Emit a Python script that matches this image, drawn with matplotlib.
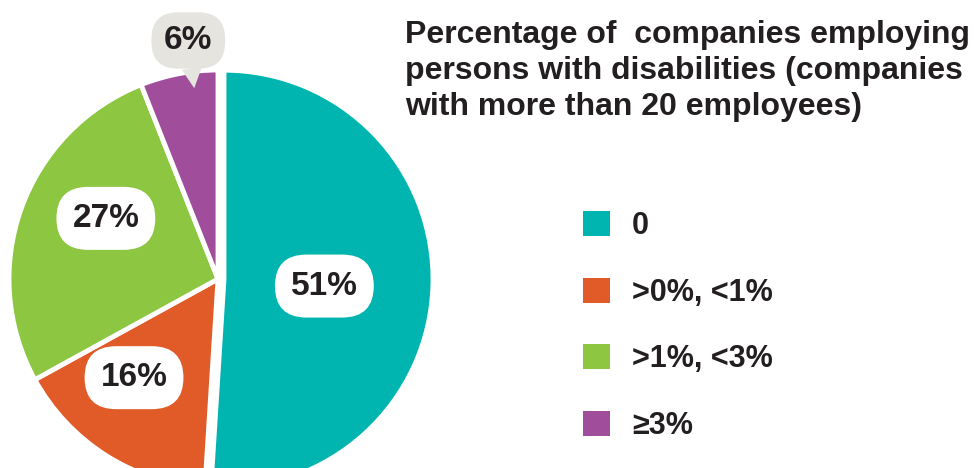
import matplotlib
matplotlib.use('Agg')
import matplotlib.pyplot as plt
from matplotlib.patches import Patch
import numpy as np

categories = ['0', '>0%, <1%', '>1%, <3%', '≥3%']
values = [51, 16, 27, 6]
labels = ['51%', '16%', '27%', '6%']
colors = ['#00B5B0', '#E05B28', '#8DC641', '#A04E9C']
title = ('Percentage of  companies employing\n'
         'persons with disabilities (companies\n'
         'with more than 20 employees)')

plt.rcParams['font.family'] = ['Liberation Sans', 'DejaVu Sans']
TXT = '#231F20'
GREY = '#E5E4DF'

W, H = 974, 468
fig = plt.figure(figsize=(W / 100, H / 100), dpi=100)
ax = fig.add_axes([0, 0, 1, 1])

cx, cy, R = 218, H - 279, 209
wedges, _ = ax.pie(values, colors=colors, startangle=90, counterclock=False,
                   center=(cx, cy), radius=R, explode=[6, 0, 0, 0],
                   wedgeprops=dict(edgecolor='white', linewidth=3.5))
ax.set_xlim(0, W)
ax.set_ylim(0, H)
ax.set_aspect('equal')
ax.axis('off')

label_r = [0.51, 0.62, 0.61, 1.15]
label_da = [-2, -8, -8.6, -3.7]
for w, lab, rr, da in zip(wedges, labels, label_r, label_da):
    mid = np.deg2rad((w.theta1 + w.theta2) / 2 + da)
    x0, y0 = cx, cy
    lx, ly = x0 + rr * R * np.cos(mid), y0 + rr * R * np.sin(mid)
    if rr < 1:
        ax.text(lx, ly, lab, ha='center', va='center', fontsize=24,
                fontweight='bold', color=TXT,
                bbox=dict(boxstyle='round,pad=0.48,rounding_size=0.95',
                          fc='white', ec='none'))
    else:
        tx, ty = x0 + 0.92 * R * np.cos(mid), y0 + 0.92 * R * np.sin(mid)
        ax.annotate(lab, xy=(tx, ty), xytext=(lx, ly), ha='center', va='center',
                    fontsize=24, fontweight='bold', color=TXT,
                    bbox=dict(boxstyle='round,pad=0.38,rounding_size=0.8',
                              fc=GREY, ec='none'),
                    arrowprops=dict(arrowstyle='wedge,tail_width=0.6,shrink_factor=0.5',
                                    fc=GREY, ec='none', shrinkA=0, shrinkB=0))

ax.text(405, H - 20, title, ha='left', va='top', fontsize=23,
        fontweight='bold', color=TXT, linespacing=1.27)

handles = [Patch(facecolor=c, edgecolor='none') for c in colors]
leg = ax.legend(handles, categories, loc='upper left',
                bbox_to_anchor=(583, H - 211), bbox_transform=ax.transData,
                frameon=False, prop=dict(size=22, weight='bold'),
                labelcolor=TXT, handlelength=0.88, handleheight=0.88,
                handletextpad=0.72, labelspacing=1.2, borderpad=0,
                borderaxespad=0)

fig.savefig('out.png', dpi=100)
